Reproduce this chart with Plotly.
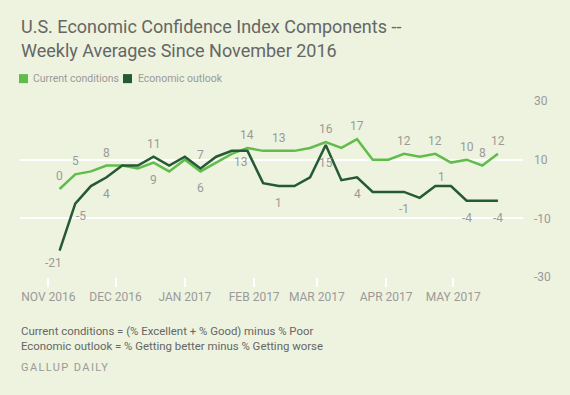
import plotly.graph_objects as go

# ---- data ----
weeks = [
    "2016-11-06", "2016-11-13", "2016-11-20", "2016-11-27",
    "2016-12-04", "2016-12-11", "2016-12-18", "2016-12-25",
    "2017-01-01", "2017-01-08", "2017-01-15", "2017-01-22", "2017-01-29",
    "2017-02-05", "2017-02-12", "2017-02-19", "2017-02-26",
    "2017-03-05", "2017-03-12", "2017-03-19", "2017-03-26",
    "2017-04-02", "2017-04-09", "2017-04-16", "2017-04-23", "2017-04-30",
    "2017-05-07", "2017-05-14", "2017-05-21",
]
current_conditions = [0, 5, 6, 8, 8, 7, 9, 6, 10, 6, 9, 12, 14, 13, 13, 13, 14,
                      16, 14, 17, 10, 10, 12, 11, 12, 9, 10, 8, 12]
economic_outlook = [-21, -5, 1, 4, 8, 8, 11, 8, 11, 7, 11, 13, 13, 2, 1, 1, 4,
                    15, 3, 4, -1, -1, -1, -3, 1, 1, -4, -4, -4]

# labelled weeks (index, side)
current_labels = [(0, "top"), (1, "top"), (3, "top"), (6, "bottom"), (9, "bottom"),
                  (12, "top"), (14, "top"), (17, "top"), (19, "top"), (22, "top"),
                  (24, "top"), (26, "top"), (27, "top"), (28, "top")]
outlook_labels = [(0, "bottom"), (1, "bottom"), (3, "bottom"), (6, "top"), (9, "top"),
                  (12, "bottom"), (14, "bottom"), (17, "bottom"), (19, "bottom"),
                  (22, "bottom"), (24, "top"), (26, "bottom"), (28, "bottom")]

month_ticks = ["2016-11-01", "2016-12-01", "2017-01-01", "2017-02-01",
               "2017-03-01", "2017-04-01", "2017-05-01"]
month_text = ["NOV 2016", "DEC 2016", "JAN 2017", "FEB 2017",
              "MAR 2017", "APR 2017", "MAY 2017"]
y_ticks = [-30, -10, 10, 30]
y_text = ["-30", "-10", "10", "30"]

title_lines = ["U.S. Economic Confidence Index Components --",
               "Weekly Averages Since November 2016"]

# ---- style ----
LIGHT = "#61bd4b"
DARK = "#245a34"
BG = "#edf3de"
LABEL = "#9a9a9a"
FONT = "Roboto"

fig = go.Figure()
fig.add_trace(go.Scatter(x=weeks, y=current_conditions, mode="lines",
                         line=dict(color=LIGHT, width=2.5), name="Current conditions",
                         showlegend=False, hoverinfo="skip"))
fig.add_trace(go.Scatter(x=weeks, y=economic_outlook, mode="lines",
                         line=dict(color=DARK, width=2.5), name="Economic outlook",
                         showlegend=False, hoverinfo="skip"))

# per-label offset tweaks (xshift, yshift)
tweaks_out = {0: (-6, -12), 1: (6, -12), 12: (-6, -11), 17: (0, -18), 24: (6, 9)}

annotations = []
def add_labels(values, specs, tweaks):
    for i, side in specs:
        xs, ys = 0, (13 if side == "top" else -17)
        if i in tweaks:
            xs, ys = tweaks[i]
        annotations.append(dict(x=weeks[i], y=values[i], xref="x", yref="y",
                                text=str(values[i]), showarrow=False,
                                xshift=xs, yshift=ys, yanchor="middle",
                                font=dict(family=FONT, size=12, color=LABEL)))

add_labels(current_conditions, current_labels, {})
add_labels(economic_outlook, outlook_labels, tweaks_out)

H = 395.0
PT, PB = 101.3, 276.7
def py(p):
    return (PB - p) / (PB - PT)

def px(p):
    return (p - 20) / 503

# title (two lines)
for text, yc in zip(title_lines, [27.5, 51]):
    annotations.append(dict(xref="paper", yref="paper", x=px(19), y=py(yc),
                            xanchor="left", yanchor="middle", showarrow=False,
                            text=text, font=dict(family=FONT, size=18, color="#666666")))

# legend
annotations.append(dict(xref="paper", yref="paper", x=px(31), y=py(79),
                        xanchor="left", yanchor="middle", showarrow=False,
                        text="Current conditions",
                        font=dict(family=FONT, size=10.5, color=LABEL)))
annotations.append(dict(xref="paper", yref="paper", x=px(136), y=py(79),
                        xanchor="left", yanchor="middle", showarrow=False,
                        text="Economic outlook",
                        font=dict(family=FONT, size=10.5, color=LABEL)))
shapes = [
    dict(type="rect", xref="paper", yref="paper", x0=px(19), x1=px(28),
         y0=py(83.5), y1=py(74.5), fillcolor=LIGHT, line=dict(width=0)),
    dict(type="rect", xref="paper", yref="paper", x0=px(123), x1=px(132),
         y0=py(83.5), y1=py(74.5), fillcolor=DARK, line=dict(width=0)),
]

# footnotes
annotations.append(dict(xref="paper", yref="paper", x=px(19), y=py(331),
                        xanchor="left", yanchor="middle", showarrow=False, align="left",
                        text="Current conditions = (% Excellent + % Good) minus % Poor",
                        font=dict(family=FONT, size=11.4, color="#666666")))
annotations.append(dict(xref="paper", yref="paper", x=px(19), y=py(345),
                        xanchor="left", yanchor="middle", showarrow=False, align="left",
                        text="Economic outlook = % Getting better minus % Getting worse",
                        font=dict(family=FONT, size=11.4, color="#666666")))
annotations.append(dict(xref="paper", yref="paper", x=px(19), y=py(367),
                        xanchor="left", yanchor="middle", showarrow=False, align="left",
                        text='<span style="letter-spacing:1.4px">GALLUP DAILY</span>',
                        font=dict(family=FONT, size=11, color=LABEL)))

fig.update_layout(
    width=570, height=395,
    margin=dict(l=20, r=47, t=PT, b=H - PB, pad=0),
    paper_bgcolor=BG, plot_bgcolor=BG,
    annotations=annotations,
    shapes=shapes,
    showlegend=False,
    xaxis=dict(range=["2016-10-19 07:00", "2017-06-01 05:00"], showgrid=False,
               zeroline=False, showline=False,
               tickvals=month_ticks, ticktext=month_text,
               ticks="outside", ticklen=9, tickwidth=2, tickcolor="white",
               tickfont=dict(family=FONT, size=12, color=LABEL)),
    yaxis=dict(range=[-30, 30], side="right", showgrid=True, gridcolor="white",
               gridwidth=2, zeroline=False, showline=False,
               tickvals=y_ticks, ticktext=y_text, ticks="",
               ticklabelstandoff=10,
               tickfont=dict(family=FONT, size=12, color=LABEL)),
)

fig.write_html("out.html", config={"displayModeBar": False},
               post_script="document.body.style.margin='0';"
                           "document.body.style.background='" + BG + "';")
